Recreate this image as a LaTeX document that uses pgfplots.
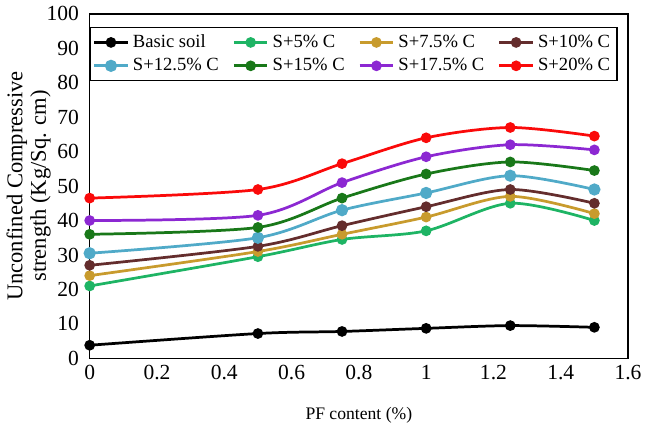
\documentclass[border=0pt]{standalone}
\usepackage{fontspec}
\setmainfont{Liberation Serif}
\usepackage{pgfplots}
\pgfplotsset{compat=1.18}

\definecolor{cBlack}{RGB}{0,0,0}
\definecolor{cGreen}{RGB}{30,180,100}
\definecolor{cGold}{RGB}{200,155,45}
\definecolor{cBrown}{RGB}{100,45,45}
\definecolor{cBlue}{RGB}{80,170,200}
\definecolor{cDGreen}{RGB}{25,120,25}
\definecolor{cPurple}{RGB}{140,40,210}
\definecolor{cRed}{RGB}{250,10,10}

\begin{document}
\begin{tikzpicture}
\begin{axis}[
  scale only axis,
  width=275pt, height=176pt,
  xmin=0, xmax=1.6, ymin=0, ymax=100,
  xtick={0,0.2,...,1.6},
  ytick={0,10,...,100},
  xticklabels={0,0.2,0.4,0.6,0.8,1,1.2,1.4,1.6},
  major tick length=0pt,
  tick label style={font=\fontsize{11}{12}\selectfont},
  yticklabel style={xshift=-2pt},
  /pgf/number format/assume math mode=true,
  xlabel={PF content (\%)},
  ylabel={Unconfined Compressive\\strength (Kg/Sq. cm)},
  ylabel style={align=center, font=\fontsize{11.5}{12}\selectfont, yshift=-9pt},
  xlabel style={font=\small, yshift=-7pt},
  axis line style={line width=0.8pt},
  legend columns=4,
  legend style={at={(0.49,0.962)}, anchor=north, font=\fontsize{9.5}{12}\selectfont,
    draw=black, line width=0.8pt, inner sep=1.5pt,
    /tikz/every even column/.append style={column sep=5pt}},
  legend cell align=left,
  every axis plot/.append style={smooth, line width=1.4pt, mark=*, mark size=2pt},
]
\addplot[color=cBlack] coordinates {(0,3.8) (0.5,7.2) (0.75,7.8) (1,8.7) (1.25,9.5) (1.5,9.0)};
\addlegendentry{Basic soil}
\addplot[color=cGreen] coordinates {(0,21) (0.5,29.5) (0.75,34.5) (1,37) (1.25,45) (1.5,40)};
\addlegendentry{S+5\% C}
\addplot[color=cGold] coordinates {(0,24) (0.5,31) (0.75,36) (1,41) (1.25,47) (1.5,42)};
\addlegendentry{S+7.5\% C}
\addplot[color=cBrown] coordinates {(0,27) (0.5,32.5) (0.75,38.5) (1,44) (1.25,49) (1.5,45)};
\addlegendentry{S+10\% C}
\addplot[color=cBlue, mark size=2.4pt] coordinates {(0,30.5) (0.5,35) (0.75,43) (1,48) (1.25,53) (1.5,49)};
\addlegendentry{S+12.5\% C}
\addplot[color=cDGreen] coordinates {(0,36) (0.5,38) (0.75,46.5) (1,53.5) (1.25,57) (1.5,54.5)};
\addlegendentry{S+15\% C}
\addplot[color=cPurple] coordinates {(0,40) (0.5,41.5) (0.75,51) (1,58.5) (1.25,62) (1.5,60.5)};
\addlegendentry{S+17.5\% C}
\addplot[color=cRed] coordinates {(0,46.5) (0.5,49) (0.75,56.5) (1,64) (1.25,67) (1.5,64.5)};
\addlegendentry{S+20\% C}
\end{axis}
\end{tikzpicture}
\end{document}
